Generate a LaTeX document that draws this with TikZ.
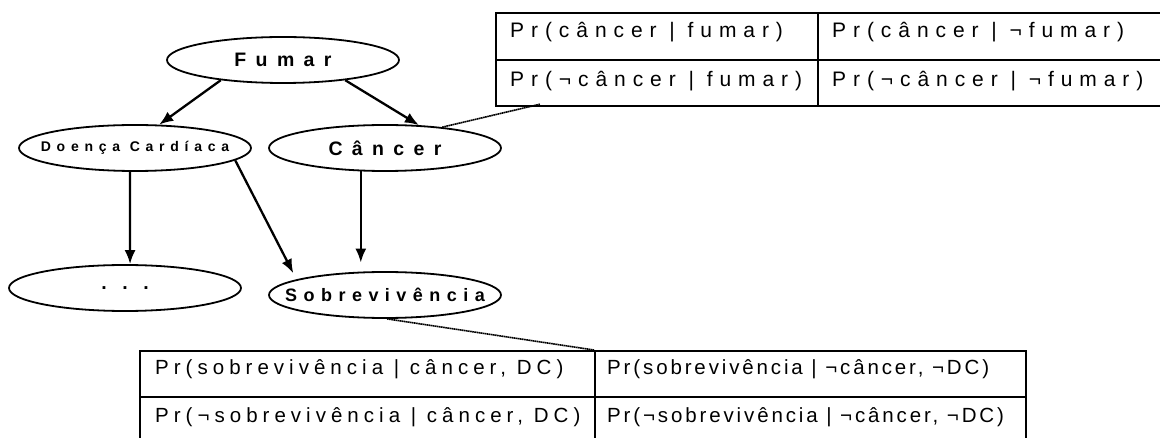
\documentclass[tikz,border=0pt]{standalone}
\usepackage{fontspec}
\setmainfont{Liberation Sans}
\newfontfamily\tabfont[LetterSpace=33]{Liberation Sans}
\newfontfamily\tabfontl[LetterSpace=24.5]{Liberation Sans}
\newfontfamily\tabfontr[LetterSpace=14]{Liberation Sans}
\newfontfamily\varfont[LetterSpace=48]{Liberation Sans}
\newfontfamily\varfontd[LetterSpace=41]{Liberation Sans}
\newfontfamily\varfontc[LetterSpace=36]{Liberation Sans}
\newfontfamily\dotfont[LetterSpace=80]{Liberation Sans}
\usetikzlibrary{shapes.geometric,arrows.meta}
% centred label that does not widen its ellipse
\newcommand\vlabel[1]{\makebox[0pt][c]{#1}}
\begin{document}
\begin{tikzpicture}[x=1pt,y=-1pt,
  var/.style={ellipse,draw,line width=1.8pt,minimum width=232pt,minimum height=46pt,inner sep=0pt},
  arr/.style={line width=2.3pt,-{Latex[length=14pt,width=11pt]}},
  link/.style={line width=1.6pt,dash pattern=on 1.6pt off 0.5pt,black},
  cell/.style={draw,line width=2.2pt,rectangle,inner sep=0pt,anchor=north west},
  celltxt/.style={anchor=base west,inner sep=0pt}]
\useasboundingbox (0,0) rectangle (1160,438);
\clip (0,0) rectangle (1160,438);

% network variables
\node[var] (fumar) at (283,60) {\vlabel{\varfont\fontsize{19.5}{22}\selectfont\bfseries Fumar}};
\node[var] (dc) at (135,148) {\vlabel{\varfontd\fontsize{14}{16}\selectfont\bfseries Doença Cardíaca}};
\node[var] (cancer) at (385,148) {\vlabel{\varfont\fontsize{19.5}{22}\selectfont\bfseries Câncer}};
\node[var] (dots) at (125,288) {\vlabel{\dotfont\fontsize{19.5}{22}\selectfont\bfseries ...}};
\node[var] (sobrev) at (385,295) {\vlabel{\varfontc\fontsize{18}{20}\selectfont\bfseries Sobrevivência}};

% dependencies
\draw[arr] (fumar.198) -- (dc.44);
\draw[arr] (fumar.-18) -- (cancer.34);
\draw[arr] (dc.258) -- (dots.78);
\draw[arr,shorten >=7pt] (dc.-7) -- (sobrev.170);
\draw[arr,shorten >=9pt] (cancer.224) -- (sobrev.136);

% conditional probability table of Câncer
\node[cell,minimum width=322pt,minimum height=47pt] (a11) at (495,12) {};
\node[cell,minimum width=360pt,minimum height=47pt] (a12) at (817,12) {};
\node[cell,minimum width=322pt,minimum height=46pt] (a21) at (495,59) {};
\node[cell,minimum width=360pt,minimum height=46pt] (a22) at (817,59) {};
\begin{scope}[every node/.append style={font=\tabfont\fontsize{21}{24}\selectfont}]
\node[celltxt] (ta11) at (510,38) {Pr(câncer | fumar)};
\node[celltxt] (ta12) at (832,38) {Pr(câncer | ¬fumar)};
\node[celltxt] (ta21) at (510,87) {Pr(¬câncer | fumar)};
\node[celltxt] (ta22) at (832,87) {Pr(¬câncer | ¬fumar)};
\end{scope}

% conditional probability table of Sobrevivência
\node[cell,minimum width=455pt,minimum height=46pt] (b11) at (139,350) {};
\node[cell,minimum width=431pt,minimum height=46pt] (b12) at (594,350) {};
\node[cell,minimum width=455pt,minimum height=60pt] (b21) at (139,396) {};
\node[cell,minimum width=431pt,minimum height=60pt] (b22) at (594,396) {};
\begin{scope}[every node/.append style={font=\tabfontl\fontsize{20.5}{24}\selectfont}]
\node[celltxt] (tb11) at (155,375) {Pr(sobrevivência | câncer, DC)};
\node[celltxt] (tb21) at (155,423) {Pr(¬sobrevivência | câncer, DC)};
\end{scope}
\begin{scope}[every node/.append style={font=\tabfontr\fontsize{20.5}{24}\selectfont}]
\node[celltxt] (tb12) at (607,375) {Pr(sobrevivência | ¬câncer, ¬DC)};
\node[celltxt] (tb22) at (607,423) {Pr(¬sobrevivência | ¬câncer, ¬DC)};
\end{scope}

% links from variables to their tables
\coordinate (ta) at ([xshift=45pt,yshift=3pt]a21.south west);
\draw[link] (cancer.20) -- (ta);
\draw[link] (sobrev.-85) -- (b12.north west);
\end{tikzpicture}
\end{document}
